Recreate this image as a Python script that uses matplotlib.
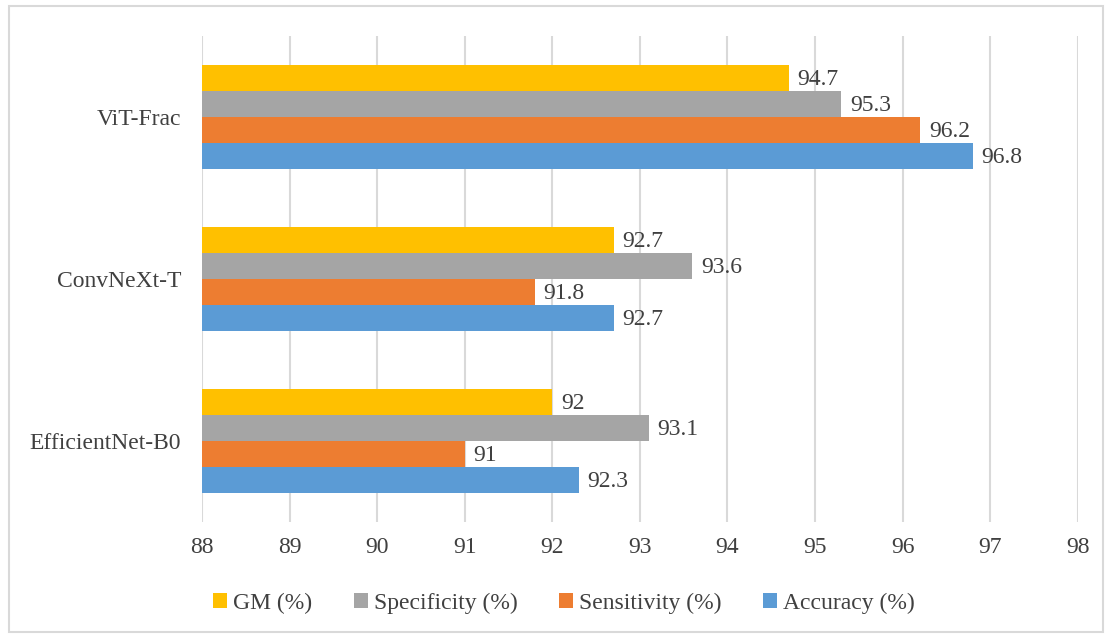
import numpy as np
import matplotlib
matplotlib.use("Agg")
from matplotlib import pyplot as plt
from matplotlib.patches import Rectangle

# model results, bottom to top as in the chart
models = ["EfficientNet-B0", "ConvNeXt-T", "ViT-Frac"]
accuracy = [92.3, 92.7, 96.8]
sensitivity = [91.0, 91.8, 96.2]
specificity = [93.1, 93.6, 95.3]
gm = [92.0, 92.7, 94.7]

series = [
    ("Accuracy (%)", accuracy, "#5B9BD5"),
    ("Sensitivity (%)", sensitivity, "#ED7D31"),
    ("Specificity (%)", specificity, "#A5A5A5"),
    ("GM (%)", gm, "#FFC000"),
]

plt.rcParams['font.family'] = ['Liberation Serif', 'DejaVu Serif']
text_col = "#404040"
fs = 17

fig = plt.figure(figsize=(11.1, 6.35), dpi=100)
ax = fig.add_axes([0.182, 0.178, 0.789, 0.765])

y = np.arange(len(models))
h = 0.16
for i, (name, vals, col) in enumerate(series):
    pos = y + (i - 1.5) * h
    ax.barh(pos, np.array(vals) - 88, left=88, height=h, color=col, label=name, zorder=3)
    for p, v in zip(pos, vals):
        ax.text(v + 0.1, p - 0.01, f"{v:g}", va="center", ha="left", fontsize=fs, color=text_col)

ax.set_xlim(88, 98)
ax.set_ylim(-0.5, 2.5)
ax.set_xticks(np.arange(88, 99, 1))
ax.set_yticks(y)
ax.set_yticklabels(models)
ax.tick_params(axis="both", length=0, labelsize=fs, colors=text_col)
ax.tick_params(axis="x", pad=11)
ax.tick_params(axis="y", pad=15)
ax.grid(axis="x", color="#D9D9D9", linewidth=1.5, zorder=0)
for s in ax.spines.values():
    s.set_visible(False)

handles, labels = ax.get_legend_handles_labels()
leg = fig.legend(handles[::-1], labels[::-1], loc="center", bbox_to_anchor=(0.508, 0.05),
                 ncol=4, frameon=False, fontsize=fs, handlelength=0.6, handleheight=0.6,
                 handletextpad=0.25, columnspacing=1.75)
for t in leg.get_texts():
    t.set_color(text_col)

fig.patches.append(Rectangle((0.008, 0.005), 0.986, 0.985, transform=fig.transFigure,
                             fill=False, edgecolor="#D9D9D9", linewidth=1.5))

fig.savefig("out.png", dpi=100)
